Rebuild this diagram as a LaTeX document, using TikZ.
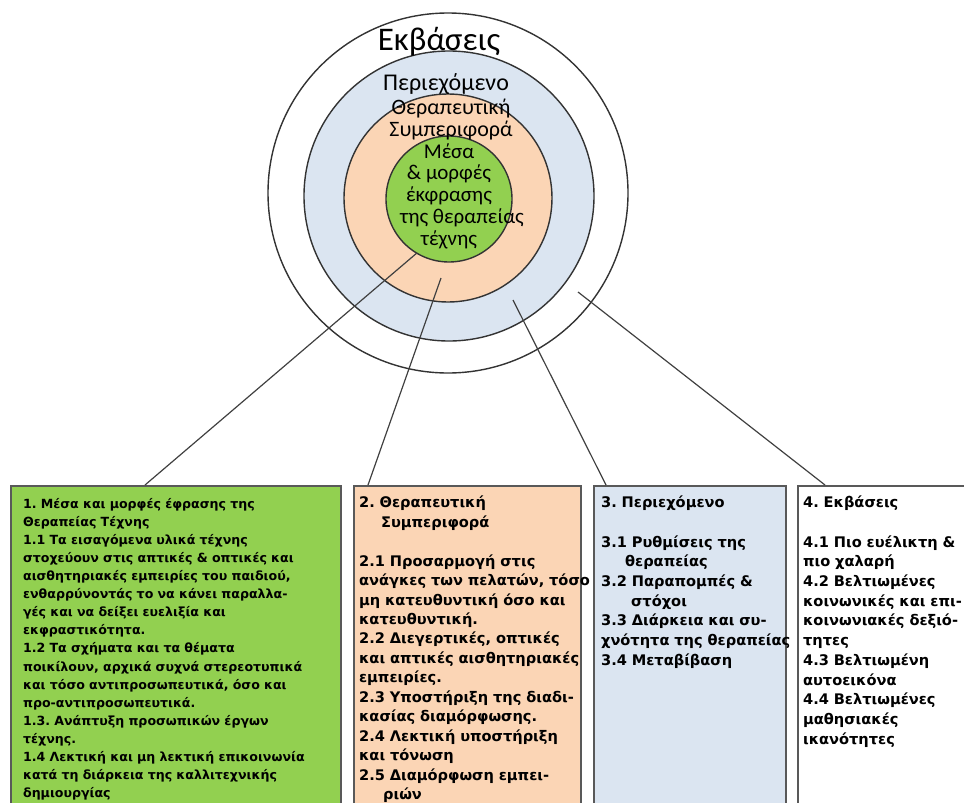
\documentclass[tikz,border=0pt]{standalone}
\usepackage{fontspec}
\setmainfont{Carlito}
\newfontfamily\panelfont{DejaVu Sans}
\usetikzlibrary{positioning}

\definecolor{mediagreen}{HTML}{92D050}
\definecolor{behavpeach}{HTML}{FBD5B5}
\definecolor{contentblue}{HTML}{DBE5F1}

\begin{document}
\begin{tikzpicture}[x=1pt, y=-1pt,
    ring/.style={circle, draw=black!80, line width=1.4pt, inner sep=0pt},
    ringtext/.style={align=center, inner sep=0pt,
                font=\fontsize{22}{22}\selectfont},
    panel/.style={draw=black!65, line width=2.2pt, anchor=north west,
                text depth=330pt, inner xsep=5pt, inner ysep=10pt,
                align=left, font=\panelfont\bfseries\fontsize{14.6}{19.7}\selectfont\frenchspacing},
    link/.style={draw=black!75, line width=1.2pt}
]
    \useasboundingbox (0,0) rectangle (964,803);
    \clip (0,0) rectangle (964,803);

    % target rings
    \node[ring, minimum size=360pt] (outcome) at (448,193) {};
    \node[ring, fill=contentblue, minimum size=290pt] (content) at (449,196) {};
    \node[ring, fill=behavpeach, minimum size=208pt] (behaviour) at (448,198) {};
    \node[ring, fill=mediagreen, minimum size=126pt] (media) at (449,199) {};

    \node[ringtext, font=\fontsize{33}{33}\selectfont] (outcometext) at (439,42) {Εκβάσεις};
    \node[ringtext, font=\fontsize{24}{24}\selectfont] (contenttext) at (446,84) {Περιεχόμενο};
    \node[ringtext] (behaviourtext) at (451,120) {Θεραπευτική\\Συμπεριφορά};
    \node[ringtext, font=\fontsize{21}{21.7}\selectfont] (mediatext) at (449,196)
        {Μέσα\\\& μορφές\\έκφρασης\\\hspace*{26pt}της θεραπείας\\τέχνης};

    % panels
    \node[panel, fill=mediagreen, text width=306pt, inner xsep=12pt, inner ysep=12pt,
          font=\panelfont\bfseries\fontsize{12.6}{18.1}\selectfont\frenchspacing] (mediapanel) at (10,485)
        {1. Μέσα και μορφές έφρασης της\\
         Θεραπείας Τέχνης\\
         1.1 Τα εισαγόμενα υλικά τέχνης\\
         \mbox{στοχεύουν στις απτικές \& οπτικές και}\\
         \mbox{αισθητηριακές εμπειρίες του παιδιού,}\\
         \mbox{ενθαρρύνοντάς το να κάνει παραλλα-}\\
         γές και να δείξει ευελιξία και\\
         εκφραστικότητα.\\
         1.2 Τα σχήματα και τα θέματα\\
         \mbox{ποικίλουν, αρχικά συχνά στερεοτυπικά}\\
         \mbox{και τόσο αντιπροσωπευτικά, όσο και}\\
         \mbox{προ-αντιπροσωπευτικά.}\\
         1.3. Ανάπτυξη προσωπικών έργων\\
         τέχνης.\\
         \mbox{1.4 Λεκτική και μη λεκτική επικοινωνία}\\
         \mbox{κατά τη διάρκεια της καλλιτεχνικής}\\
         δημιουργίας};

    \node[panel, fill=behavpeach, text width=217pt,
          font=\panelfont\bfseries\fontsize{14.6}{19.45}\selectfont\frenchspacing] (behaviourpanel) at (353,485)
        {2. Θεραπευτική\\
         \hspace*{22pt}Συμπεριφορά\\[19.45pt]
         2.1 Προσαρμογή στις\\
         \mbox{ανάγκες των πελατών, τόσο}\\
         \mbox{μη κατευθυντική όσο και}\\
         κατευθυντική.\\
         \mbox{2.2 Διεγερτικές, οπτικές}\\
         \mbox{και απτικές αισθητηριακές}\\
         εμπειρίες.\\
         \mbox{2.3 Υποστήριξη της διαδι-}\\
         κασίας διαμόρφωσης.\\
         \mbox{2.4 Λεκτική υποστήριξη}\\
         και τόνωση\\
         \mbox{2.5 Διαμόρφωση εμπει-}\\
         \hspace*{24pt}ριών};

    \node[panel, fill=contentblue, text width=178pt, inner xsep=7pt] (contentpanel) at (593,485)
        {3. Περιεχόμενο\\[19.7pt]
         3.1 Ρυθμίσεις της\\
         \hspace*{24pt}θεραπείας\\
         3.2 Παραπομπές \&\\
         \hspace*{30pt}στόχοι\\
         \mbox{3.3 Διάρκεια και συ-}\\
         \mbox{χνότητα της θεραπείας}\\
         3.4 Μεταβίβαση};

    \node[panel, fill=white, text width=190pt] (outcomepanel) at (797,485)
        {4. Εκβάσεις\\[19.7pt]
         4.1 Πιο ευέλικτη \&\\
         πιο χαλαρή\\
         4.2 Βελτιωμένες\\
         \mbox{κοινωνικές και επι-}\\
         \mbox{κοινωνιακές δεξιό-}\\
         τητες\\
         4.3 Βελτιωμένη\\
         αυτοεικόνα\\
         4.4 Βελτιωμένες\\
         μαθησιακές\\
         ικανότητες};

    % connectors
    \coordinate (behaviourpt) at (441,278);
    \coordinate (contentpt) at (513,300);
    \coordinate (outcomept) at (578,292);
    \draw[link] (media.239) -- ([xshift=135]mediapanel.north west);
    \draw[link] (behaviourpt) -- ([xshift=15]behaviourpanel.north west);
    \draw[link] (contentpt) -- ([xshift=13]contentpanel.north west);
    \draw[link] (outcomept) -- ([xshift=28]outcomepanel.north west);
\end{tikzpicture}
\end{document}
